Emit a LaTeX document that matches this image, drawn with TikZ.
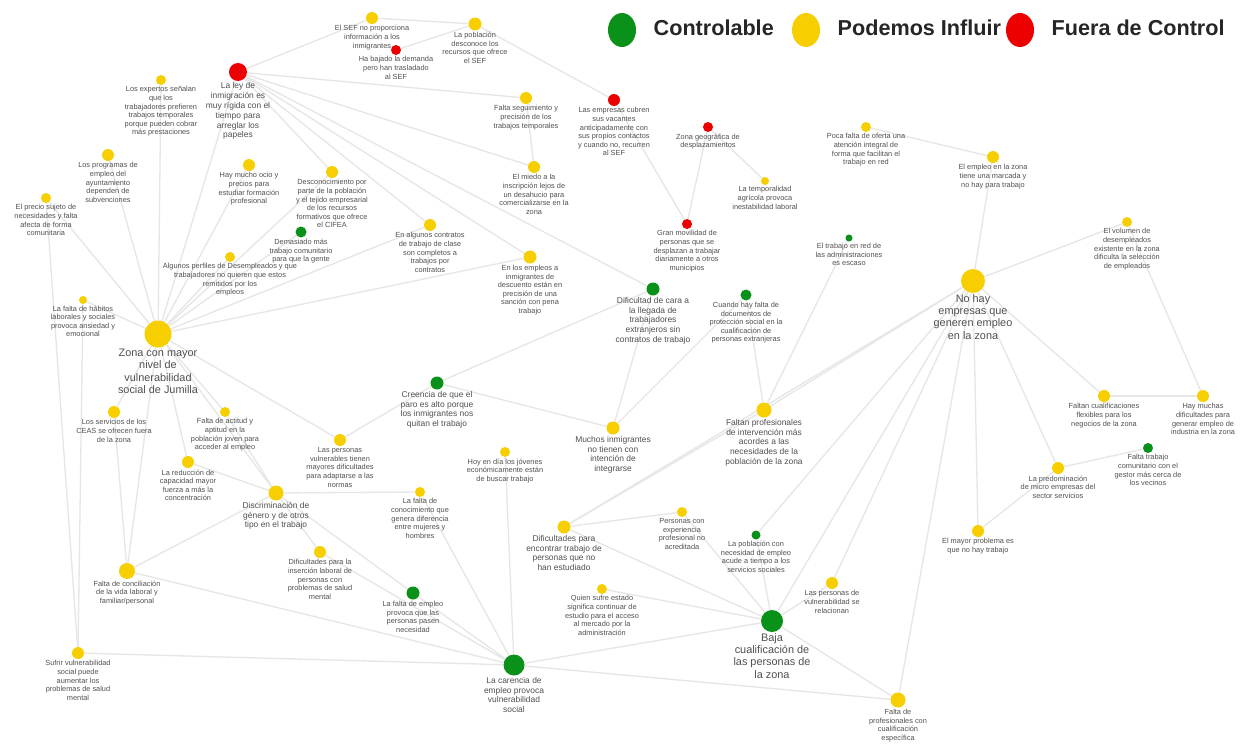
\documentclass[tikz,border=0pt]{standalone}
\usepackage{fontspec}
\setmainfont{Liberation Sans}
\usepackage{tikz}
\usetikzlibrary{positioning}
\usetikzlibrary{backgrounds}
\usetikzlibrary{shapes.geometric}

\definecolor{cgreen}{RGB}{10,145,25}
\definecolor{cyel}{RGB}{247,207,0}
\definecolor{cred}{RGB}{236,0,0}
\definecolor{cedge}{RGB}{230,230,230}
\definecolor{ctext}{RGB}{80,80,80}

\begin{document}
\begin{tikzpicture}[x=0.02cm, y=-0.02cm,
    blob/.style={circle, inner sep=0pt, minimum size=#1*0.02cm},
    gnode/.style={blob=#1, fill=cgreen}, gnode/.default=11,
    ynode/.style={blob=#1, fill=cyel}, ynode/.default=11,
    rnode/.style={blob=#1, fill=cred}, rnode/.default=11,
    ts/.style={font=\fontsize{4.2}{4.9}\selectfont, align=center, text=ctext, inner sep=0.5pt},
    tm/.style={font=\fontsize{4.8}{5.6}\selectfont, align=center, text=ctext, inner sep=0.5pt},
    tl/.style={font=\fontsize{6.2}{6.9}\selectfont, align=center, text=ctext, inner sep=0.6pt},
    edge/.style={draw=cedge, line width=0.75pt},
    legdot/.style={ellipse, inner sep=0pt, minimum width=0.56cm, minimum height=0.68cm},
    legtxt/.style={font=\fontsize{12.3}{14}\selectfont\bfseries, text=black!85, inner sep=0pt, text height=9pt, text depth=2.6pt}]

    \path[use as bounding box] (0,0) rectangle (1251,747);

    % leyenda
    \node[legdot, fill=cgreen] (leg1) at (622,30) {};
    \node[legtxt, right=0.34cm of leg1] (legt1) {Controlable};
    \node[legdot, fill=cyel] (leg2) at (806,30) {};
    \node[legtxt, right=0.34cm of leg2] (legt2) {Podemos Influir};
    \node[legdot, fill=cred] (leg3) at (1020,30) {};
    \node[legtxt, right=0.34cm of leg3] (legt3) {Fuera de Control};

    % arriba a la izquierda
    \node[rnode=18, label={[tm]below:{La ley de\\inmigración es\\muy rígida con el\\tiempo para\\arreglar los\\papeles}}] (rley) at (238,72) {};
    \node[ynode=10, label={[ts]below:{Los expertos señalan\\que los\\trabajadores prefieren\\trabajos temporales\\porque pueden cobrar\\más prestaciones}}] (yexp) at (161,80) {};
    \node[ynode=12, label={[ts]below:{Los programas de\\empleo del\\ayuntamiento\\dependen de\\subvenciones}}] (yprog) at (108,155) {};
    \node[ynode=10, label={[ts]below:{El precio sujeto de\\necesidades y falta\\afecta de forma\\comunitaria}}] (yprecio) at (46,198) {};
    \node[ynode=12, label={[ts]below:{Hay mucho ocio y\\precios para\\estudiar formación\\profesional}}] (yocio) at (249,165) {};
    \node[ynode=12, label={[ts]below:{Desconocimiento por\\parte de la población\\y el tejido empresarial\\de los recursos\\formativos que ofrece\\el CIFEA}}] (ydesc) at (332,172) {};
    \node[gnode=11, label={[ts]below:{Demasiado más\\trabajo comunitario\\para que la gente}}] (gdemas) at (301,232) {};
    \node[ynode=10, label={[ts]below:{Algunos perfiles de Desempleados y que\\trabajadores no quieren que estos\\remitidos por los\\empleos}}] (yperf) at (230,257) {};
    \node[ynode=12, label={[ts]below:{En algunos contratos\\de trabajo de clase\\son completos a\\trabajos por\\contratos}}] (ycontr) at (430,225) {};
    \node[ynode=13, label={[ts]below:{En los empleos a\\inmigrantes de\\descuento están en\\precisión de una\\sanción con pena\\trabajo}}] (yemp) at (530,257) {};

    % arriba al centro
    \node[ynode=12, label={[ts]below:{El SEF no proporciona\\información a los\\inmigrantes}}] (ysef) at (372,18) {};
    \node[ynode=13, label={[ts]below:{La población\\desconoce los\\recursos que ofrece\\el SEF}}] (ypob) at (475,24) {};
    \node[rnode=10, label={[ts]below:{Ha bajado la demanda\\pero han trasladado\\al SEF}}] (rbaj) at (396,50) {};
    \node[ynode=12, label={[ts]below:{Falta seguimiento y\\precisión de los\\trabajos temporales}}] (yseg) at (526,98) {};
    \node[ynode=12, label={[ts]below:{El miedo a la\\inscripción lejos de\\un desahucio para\\comercializarse en la\\zona}}] (ymiedo) at (534,167) {};
    \node[rnode=12, label={[ts]below:{Las empresas cubren\\sus vacantes\\anticipadamente con\\sus propios contactos\\y cuando no, recurren\\al SEF}}] (rempr) at (614,100) {};
    \node[rnode=10, label={[ts]below:{Zona geográfica de\\desplazamientos}}] (rgeo) at (708,127) {};
    \node[ynode=8, label={[ts]below:{La temporalidad\\agrícola provoca\\inestabilidad laboral}}] (ytemp) at (765,181) {};
    \node[rnode=10, label={[ts]below:{Gran movilidad de\\personas que se\\desplazan a trabajar\\diariamente a otros\\municipios}}] (rmov) at (687,224) {};

    % derecha
    \node[ynode=10, label={[ts]below:{Poca falta de oferta una\\atención integral de\\forma que facilitan el\\trabajo en red}}] (ypoca) at (866,127) {};
    \node[ynode=12, label={[ts]below:{El empleo en la zona\\tiene una marcada y\\no hay para trabajo}}] (yzemp) at (993,157) {};
    \node[gnode=7, label={[ts]below:{El trabajo en red de\\las administraciones\\es escaso}}] (gred) at (849,238) {};
    \node[ynode=10, label={[ts]below:{El volumen de\\desempleados\\existente en la zona\\dificulta la selección\\de empleados}}] (yvol) at (1127,222) {};
    \node[ynode=24, label={[tl]below:{No hay\\empresas que\\generen empleo\\en la zona}}] (ynohay) at (973,281) {};
    \node[ynode=12, label={[ts]below:{Faltan cualificaciones\\flexibles para los\\negocios de la zona}}] (yfcual) at (1104,396) {};
    \node[ynode=12, label={[ts]below:{Hay muchas\\dificultades para\\generar empleo de\\industria en la zona}}] (ymuchas) at (1203,396) {};
    \node[gnode=10, label={[ts]below:{Falta trabajo\\comunitario con el\\gestor más cerca de\\los vecinos}}] (gcom) at (1148,448) {};
    \node[ynode=12, label={[ts]below:{La predominación\\de micro empresas del\\sector servicios}}] (ypred) at (1058,468) {};
    \node[ynode=12, label={[ts]below:{El mayor problema es\\que no hay trabajo}}] (ymayor) at (978,531) {};

    % centro
    \node[gnode=13, label={[tm]below:{Dificultad de cara a\\la llegada de\\trabajadores\\extranjeros sin\\contratos de trabajo}}] (gdif) at (653,289) {};
    \node[gnode=11, label={[ts]below:{Cuando hay falta de\\documentos de\\protección social en la\\cualificación de\\personas extranjeras}}] (gcuan) at (746,295) {};
    \node[gnode=13, label={[tm]below:{Creencia de que el\\paro es alto porque\\los inmigrantes nos\\quitan el trabajo}}] (gcre) at (437,383) {};
    \node[ynode=13, label={[tm]below:{Muchos inmigrantes\\no tienen con\\intención de\\integrarse}}] (ymuch) at (613,428) {};
    \node[ynode=15, label={[tm]below:{Faltan profesionales\\de intervención más\\acordes a las\\necesidades de la\\población de la zona}}] (yfprof) at (764,410) {};

    % izquierda
    \node[ynode=27, label={[tl]below:{Zona con mayor\\nivel de\\vulnerabilidad\\social de Jumilla}}] (yzona) at (158,334) {};
    \node[ynode=8, label={[ts]below:{La falta de hábitos\\laborales y sociales\\provoca ansiedad y\\emocional}}] (yhab) at (83,300) {};
    \node[ynode=12, label={[ts]below:{Los servicios de los\\CEAS se ofrecen fuera\\de la zona}}] (yserv) at (114,412) {};
    \node[ynode=10, label={[ts]below:{Falta de actitud y\\aptitud en la\\población joven para\\acceder al empleo}}] (yact) at (225,412) {};
    \node[ynode=12, label={[ts]below:{La reducción de\\capacidad mayor\\fuerza a más la\\concentración}}] (yred) at (188,462) {};
    \node[ynode=12, label={[ts]below:{Las personas\\vulnerables tienen\\mayores dificultades\\para adaptarse a las\\normas}}] (yvul) at (340,440) {};
    \node[ynode=10, label={[ts]below:{Hoy en día los jóvenes\\económicamente están\\de buscar trabajo}}] (yhoy) at (505,452) {};
    \node[ynode=15, label={[tm]below:{Discriminación de\\género y de otros\\tipo en el trabajo}}] (ydisc) at (276,493) {};
    \node[ynode=10, label={[ts]below:{La falta de\\conocimiento que\\genera diferencia\\entre mujeres y\\hombres}}] (yconoc) at (420,492) {};
    \node[ynode=16, label={[ts]below:{Falta de conciliación\\de la vida laboral y\\familiar/personal}}] (yconc) at (127,571) {};
    \node[ynode=12, label={[ts]below:{Sufrir vulnerabilidad\\social puede\\aumentar los\\problemas de salud\\mental}}] (ysuf) at (78,653) {};
    \node[ynode=12, label={[ts]below:{Dificultades para la\\inserción laboral de\\personas con\\problemas de salud\\mental}}] (yins) at (320,552) {};
    \node[gnode=13, label={[ts]below:{La falta de empleo\\provoca que las\\personas pasen\\necesidad}}] (gfemp) at (413,593) {};

    % abajo
    \node[ynode=13, label={[tm]below:{Dificultades para\\encontrar trabajo de\\personas que no\\han estudiado}}] (ydifest) at (564,527) {};
    \node[ynode=10, label={[ts]below:{Personas con\\experiencia\\profesional no\\acreditada}}] (yexper) at (682,512) {};
    \node[gnode=9, label={[ts]below:{La población con\\necesidad de empleo\\acude a tiempo a los\\servicios sociales}}] (gnec) at (756,535) {};
    \node[ynode=10, label={[ts]below:{Quien sufre estado\\significa continuar de\\estudio para el acceso\\al mercado por la\\administración}}] (yquien) at (602,589) {};
    \node[gnode=21, label={[tm]below:{La carencia de\\empleo provoca\\vulnerabilidad\\social}}] (gcar) at (514,665) {};
    \node[gnode=22, label={[tl]below:{Baja\\cualificación de\\las personas de\\la zona}}] (gbaja) at (772,621) {};
    \node[ynode=12, label={[ts]below:{Las personas de\\vulnerabilidad se\\relacionan}}] (ypers) at (832,583) {};
    \node[ynode=15, label={[ts]below:{Falta de\\profesionales con\\cualificación\\específica}}] (yfpc) at (898,700) {};

    \begin{pgfonlayer}{background}
        \fill[white] (0,0) rectangle (1251,747);
        \foreach \a/\b in {yzona/rley, yzona/yexp, yzona/yprog, yzona/yprecio, yzona/yocio,
                yzona/ydesc, yzona/gdemas, yzona/yperf, yzona/ycontr, yzona/yemp, yzona/yhab,
                yzona/yserv, yzona/yact, yzona/yvul, yzona/yconc, yzona/ydisc, yzona/yred,
                rley/ysef, rley/yseg, rley/ymiedo, rley/gdif, rley/yemp, rley/ycontr, rley/ydesc,
                ysef/ypob, rbaj/ypob, ypob/rempr, yseg/ymiedo, rempr/rmov, rgeo/rmov, rgeo/ytemp,
                ypoca/yzemp, yzemp/ynohay, yvol/ynohay, yvol/ymuchas, ynohay/yfcual, yfcual/ymuchas,
                gcom/ypred, ynohay/ypred, ynohay/ymayor, ypred/ymayor, ynohay/yfprof, ynohay/gbaja,
                ynohay/yfpc, ynohay/ypers, ynohay/gnec, ynohay/ydifest,
                gred/yfprof, gcuan/yfprof, gdif/ymuch, gcuan/ymuch, gcre/gdif, gcre/ymuch, gcre/yvul,
                yfprof/ydifest, ydifest/yexper,
                gbaja/ydifest, gbaja/yexper, gbaja/gnec, gbaja/yquien, gbaja/yfpc, gbaja/gcar, gbaja/ypers,
                gcar/yconc, gcar/ysuf, gcar/gfemp, gcar/yins, gcar/yconoc, gcar/yhoy, gcar/yfpc,
                ydisc/yconc, ydisc/yact, ydisc/yred, ydisc/yconoc, ydisc/gfemp, ydisc/yins,
                yserv/yconc, yprecio/ysuf, yhab/ysuf}
            \draw[edge] (\a) -- (\b);
    \end{pgfonlayer}

\end{tikzpicture}
\end{document}
